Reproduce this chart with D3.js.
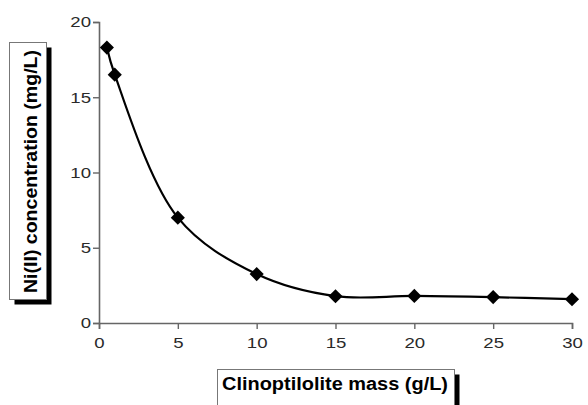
<!DOCTYPE html>
<html>
<head>
<meta charset="utf-8">
<script src="https://cdn.jsdelivr.net/npm/d3@7"></script>
<style>
  html, body { margin: 0; padding: 0; background: #fff; }
  svg { display: block; font-family: "Liberation Sans", Arial, sans-serif; }
</style>
</head>
<body>
<svg id="chart" width="588" height="405"></svg>
<script>
// Clinoptilolite dose vs residual Ni(II) concentration
const massGL = [0.5, 1, 5, 10, 15, 20, 25, 30];
const niConc = [18.3, 16.5, 7.0, 3.25, 1.78, 1.8, 1.72, 1.58];
const xTicks = [0, 5, 10, 15, 20, 25, 30];
const yTicks = [0, 5, 10, 15, 20];
const xTitle = "Clinoptilolite mass (g/L)";
const yTitle = "Ni(II) concentration (mg/L)";

const svg = d3.select("#chart");
const x = d3.scaleLinear().domain([0, 30]).range([99, 572]);
const y = d3.scaleLinear().domain([0, 20]).range([323, 22]);

const axisColor = "#666";
const labelColor = "#2a2a2a";
const stretch = 1.2; // tick numerals are drawn slightly wide

// x axis
const gx = svg.append("g").attr("transform", `translate(0,${y(0)})`)
  .call(d3.axisBottom(x).tickValues(xTicks).tickSize(6).tickPadding(8).tickFormat(d3.format("d")));
// y axis
const gy = svg.append("g").attr("transform", `translate(${x(0)},0)`)
  .call(d3.axisLeft(y).tickValues(yTicks).tickSize(6).tickPadding(2).tickFormat(d3.format("d")));

[gx, gy].forEach(g => {
  g.select(".domain").attr("stroke", axisColor).attr("stroke-width", 1.6);
  g.selectAll(".tick line").attr("stroke", axisColor).attr("stroke-width", 1.4);
  g.selectAll(".tick text").attr("fill", labelColor)
    .style("font-size", "15.5px").style("font-family", "Liberation Sans, Arial, sans-serif")
    .attr("transform", `scale(${stretch},1)`);
});
gy.selectAll(".tick text").attr("x", -8 / stretch);

// smoothed fit through the points
const pts = massGL.map((m, i) => [m, niConc[i]]);
const line = d3.line().x(d => x(d[0])).y(d => y(d[1])).curve(d3.curveCatmullRom.alpha(0.5));
svg.append("path").datum(pts).attr("d", line)
  .attr("fill", "none").attr("stroke", "#000").attr("stroke-width", 2.2);

// diamond markers
svg.append("g").selectAll("path").data(pts).join("path")
  .attr("transform", d => `translate(${x(d[0])},${y(d[1])}) rotate(45)`)
  .attr("d", d3.symbol().type(d3.symbolSquare).size(100))
  .attr("fill", "#000");

// boxed axis title with drop shadow
function shadowBox(bx, by, bw, bh, off) {
  svg.append("rect").attr("x", bx + off).attr("y", by + off).attr("width", bw).attr("height", bh).attr("fill", "#000");
  svg.append("rect").attr("x", bx).attr("y", by).attr("width", bw).attr("height", bh)
    .attr("fill", "#fff").attr("stroke", "#777").attr("stroke-width", 1);
}

// y title
shadowBox(9.5, 42.5, 37, 257, 5);
svg.append("text")
  .attr("transform", `translate(37,171.5) rotate(-90)`)
  .attr("text-anchor", "middle")
  .attr("textLength", 243).attr("lengthAdjust", "spacingAndGlyphs")
  .style("font-size", "19px").style("font-weight", "bold").attr("fill", "#000")
  .text(yTitle);

// x title
shadowBox(217.5, 369.5, 237, 50, 5);
svg.append("text")
  .attr("x", 335).attr("y", 390)
  .attr("text-anchor", "middle")
  .attr("textLength", 226).attr("lengthAdjust", "spacingAndGlyphs")
  .style("font-size", "18px").style("font-weight", "bold").attr("fill", "#000")
  .text(xTitle);
</script>
</body>
</html>
